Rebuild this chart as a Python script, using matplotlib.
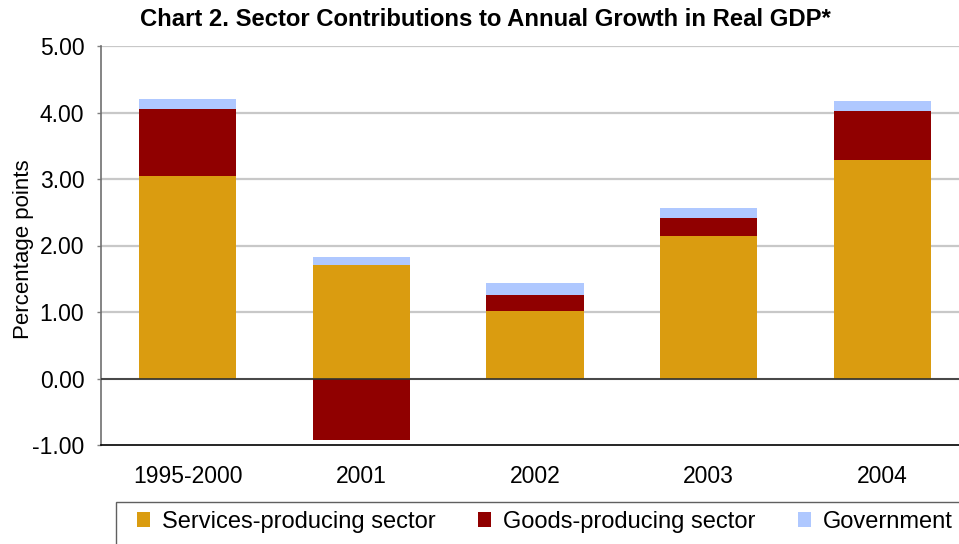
import matplotlib
matplotlib.use("Agg")
import matplotlib.pyplot as plt
from matplotlib.patches import Rectangle, Patch
import numpy as np

plt.rcParams['font.family'] = ['Liberation Sans', 'DejaVu Sans']

categories = ["1995-2000", "2001", "2002", "2003", "2004"]
services = [3.04, 1.71, 1.01, 2.15, 3.28]
goods = [1.01, -0.93, 0.24, 0.26, 0.75]
government = [0.15, 0.11, 0.19, 0.15, 0.14]
yticks = [-1.0, 0.0, 1.0, 2.0, 3.0, 4.0, 5.0]
series_names = ["Services-producing sector", "Goods-producing sector", "Government"]
colors = ["#DA9C10", "#900000", "#AFC8FF"]

W, H = 959, 544
fig = plt.figure(figsize=(W/100, H/100), dpi=100)
left, right, top, bottom = 101, 969, 46, 445
ax = fig.add_axes([left/W, 1-bottom/H, (right-left)/W, (bottom-top)/H])

x = np.arange(len(categories))
w = 0.56
services = np.array(services); goods = np.array(goods); government = np.array(government)
pos_goods = np.where(goods > 0, goods, 0)
ax.bar(x, services, w, color=colors[0], zorder=3)
ax.bar(x, goods, w, bottom=np.where(goods > 0, services, 0), color=colors[1], zorder=3)
ax.bar(x, government, w, bottom=services + pos_goods, color=colors[2], zorder=3)

ax.set_xlim(-0.5, len(categories) - 0.5)
ax.set_ylim(-1, 5)
ax.set_yticks(yticks)
ax.set_yticklabels([f"{v:.2f}" for v in yticks], fontsize=16.5)
ax.set_xticks(x)
ax.set_xticklabels(categories, fontsize=16.5)
ax.tick_params(axis='x', length=0, pad=14.5)
ax.tick_params(axis='y', length=3, width=1, color='#808080', pad=9, direction='out')
for v in yticks[1:]:
    ax.axhline(v, color='#c8c8c8', lw=1.6, zorder=1)
ax.axhline(0, color='#303030', lw=1.2, zorder=4)
for s in ['top', 'right']:
    ax.spines[s].set_visible(False)
ax.spines['left'].set_color('#707070')
ax.spines['left'].set_linewidth(1.2)
ax.spines['bottom'].set_color('#000000')
ax.spines['bottom'].set_linewidth(1.2)
ax.set_ylabel("Percentage points", fontsize=16)
ax.yaxis.set_label_coords((34-left)/(right-left), (bottom-249)/(bottom-top))

fig.text(485/W, 1-20/H, "Chart 2. Sector Contributions to Annual Growth in Real GDP*",
         fontsize=17.2, fontweight='bold', ha='center', va='center')

# legend frame
fig.patches.append(Rectangle((116/W, -0.1), 1.0, 1-502/H + 0.1, transform=fig.transFigure,
                             fill=False, edgecolor='#606060', lw=1.0, clip_on=False))
handles = [Patch(facecolor=c, edgecolor='none') for c in colors]
fig.legend(handles, series_names, loc='center left', bbox_to_anchor=(137/W, 1-522/H),
           ncol=3, frameon=False, fontsize=17, handlelength=0.55, handleheight=0.6,
           handletextpad=0.5, columnspacing=1.8, borderpad=0, borderaxespad=0)

fig.savefig("out.png", dpi=100)
